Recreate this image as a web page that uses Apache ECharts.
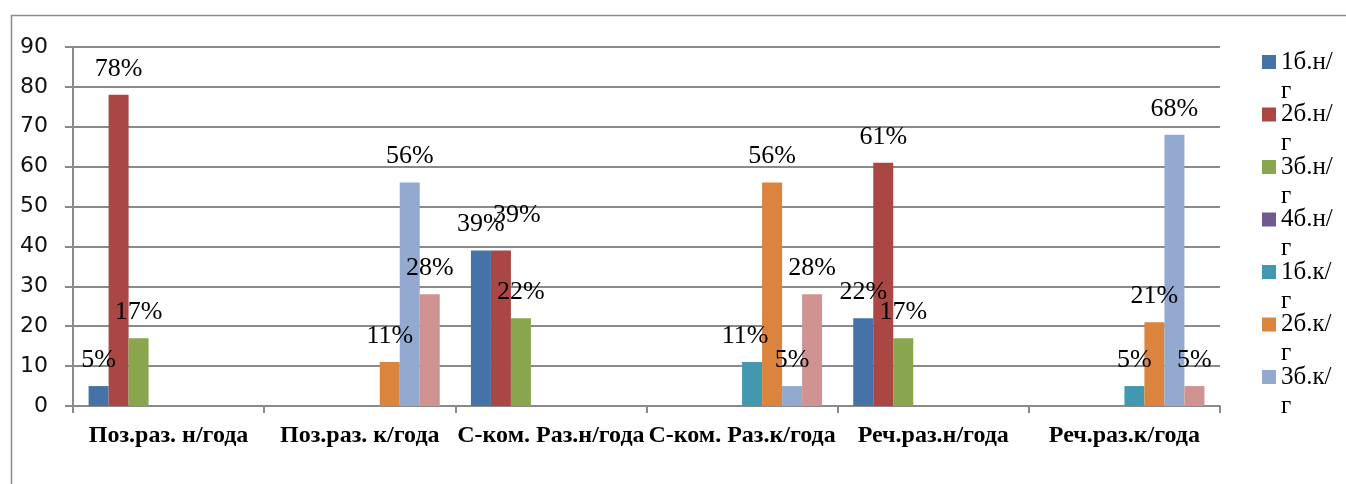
<!DOCTYPE html>
<html>
<head>
<meta charset="utf-8">
<script src="https://cdn.jsdelivr.net/npm/echarts@6/dist/echarts.min.js"></script>
<style>
  html, body { margin: 0; padding: 0; background: #ffffff; }
  #chart { width: 1346px; height: 484px; }
</style>
</head>
<body>
<div id="chart"></div>
<script>
// ---- data ----
const categories = ['Поз.раз. н/года', 'Поз.раз. к/года', 'С-ком. Раз.н/года', 'С-ком. Раз.к/года', 'Реч.раз.н/года', 'Реч.раз.к/года'];
const seriesNames = ['1б.н/г', '2б.н/г', '3б.н/г', '4б.н/г', '1б.к/г', '2б.к/г', '3б.к/г', '4б.к/г'];
const s1bn = [5, null, 39, null, 22, null];
const s2bn = [78, null, 39, null, 61, null];
const s3bn = [17, null, 22, null, 17, null];
const s4bn = [null, null, null, null, null, null];
const s1bk = [null, null, null, 11, null, 5];
const s2bk = [null, 11, null, 56, null, 21];
const s3bk = [null, 56, null, 5, null, 68];
const s4bk = [null, 28, null, 28, null, 5];
const yTicks = [0, 10, 20, 30, 40, 50, 60, 70, 80, 90];
const legendShown = seriesNames.slice(0, 7); // the 8th legend entry is cut off in the reference

const seriesValues = [s1bn, s2bn, s3bn, s4bn, s1bk, s2bk, s3bk, s4bk];
const colors = ['#4572A7', '#AA4643', '#89A54E', '#71588F', '#4198AF', '#DB843D', '#93A9CF', '#D19392'];

// label nudges mimicking the reference's collision placement (style only)
const labelNudge = { '1_2': [16, -9], '4_3': [-7, 0] };

const serif = '"Liberation Serif", "Times New Roman", serif';

const series = seriesValues.map((vals, si) => ({
  name: seriesNames[si],
  type: 'bar',
  barWidth: 20,
  barGap: '0%',
  itemStyle: { color: colors[si] },
  label: {
    show: true,
    position: 'top',
    distance: 13,
    formatter: p => p.value + '%',
    fontFamily: serif,
    fontSize: 26,
    color: '#000'
  },
  data: vals.map((v, ci) => {
    if (v === null) return '-';
    const n = labelNudge[si + '_' + ci];
    return n ? { value: v, label: { offset: n } } : v;
  })
}));

const chart = echarts.init(document.getElementById('chart'), null, { renderer: 'canvas' });
chart.setOption({
  animation: false,
  backgroundColor: '#ffffff',
  color: colors,
  graphic: [{
    type: 'rect',
    shape: { x: 11.5, y: 15.5, width: 1400, height: 600 },
    style: { fill: 'none', stroke: '#8a8a8a', lineWidth: 1.5 },
    silent: true,
    z: -1
  }],
  grid: { left: 73, right: 126, top: 47, bottom: 78, containLabel: false },
  legend: {
    orient: 'vertical',
    left: 1262,
    top: 18.5,
    padding: 0,
    itemWidth: 14,
    itemHeight: 14,
    itemGap: -34.5,
    icon: 'rect',
    data: legendShown,
    formatter: name => ' \n' + name.slice(0, -1) + '\n' + name.slice(-1),
    textStyle: {
      fontFamily: serif,
      fontSize: 25,
      lineHeight: 29,
      color: '#000'
    }
  },
  xAxis: {
    type: 'category',
    data: categories,
    axisLine: { show: true, lineStyle: { color: '#8a8a8a', width: 2 } },
    axisTick: { show: true, length: 7, alignWithLabel: false, lineStyle: { color: '#8a8a8a', width: 2 } },
    axisLabel: {
      interval: 0,
      hideOverlap: false,
      margin: 18,
      fontFamily: serif,
      fontWeight: 'bold',
      fontSize: 24,
      color: '#000'
    },
    splitLine: { show: false }
  },
  yAxis: {
    type: 'value',
    min: 0,
    max: 90,
    interval: 10,
    axisLine: { show: true, lineStyle: { color: '#8a8a8a', width: 2 } },
    axisTick: { show: true, length: 8, lineStyle: { color: '#8a8a8a', width: 2 } },
    axisLabel: {
      margin: 25,
      fontFamily: '"DejaVu Sans", sans-serif',
      fontSize: 22,
      color: '#111',
      formatter: v => (yTicks.indexOf(v) >= 0 ? String(v) : '')
    },
    splitLine: { show: true, lineStyle: { color: '#8a8a8a', width: 2 } }
  },
  series: series
});
</script>
</body>
</html>
